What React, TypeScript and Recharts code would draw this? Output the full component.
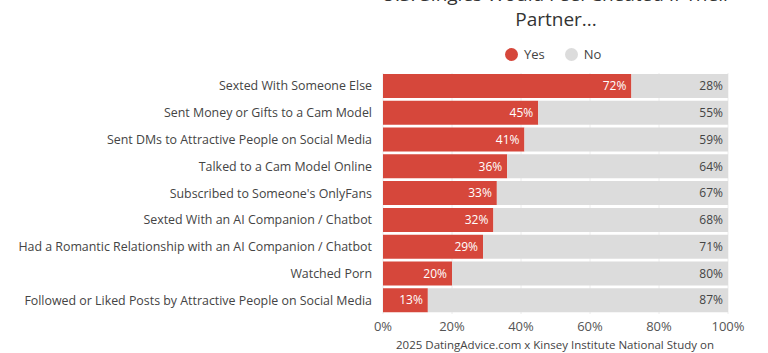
import React from 'react'
import {
  BarChart,
  Bar,
  XAxis,
  YAxis,
  CartesianGrid,
  LabelList,
} from 'recharts'

const categories = [
  'Sexted With Someone Else',
  'Sent Money or Gifts to a Cam Model',
  'Sent DMs to Attractive People on Social Media',
  'Talked to a Cam Model Online',
  "Subscribed to Someone's OnlyFans",
  'Sexted With an AI Companion / Chatbot',
  'Had a Romantic Relationship with an AI Companion / Chatbot',
  'Watched Porn',
  'Followed or Liked Posts by Attractive People on Social Media',
]
const yesValues = [72, 45, 41, 36, 33, 32, 29, 20, 13]
const noValues = [28, 55, 59, 64, 67, 68, 71, 80, 87]
const xTicks = [0, 20, 40, 60, 80, 100]

const RED = '#d6473b'
const GRAY = '#dcdcdc'
const FONT = '"Open Sans", "Noto Sans", sans-serif'

const data = categories.map((name, i) => ({
  name,
  yes: yesValues[i],
  no: noValues[i],
}))

const pct = (v: any) => `${v}%`

// single-line category label, right aligned against the plot
const CategoryTick = ({ x, y, payload }: any) => (
  <text
    x={x}
    y={y}
    dy={4}
    textAnchor='end'
    fill='#444'
    fontSize={12.4}
    fontFamily={FONT}
  >
    {payload.value}
  </text>
)

export default function App() {
  return (
    <div
      style={{
        position: 'absolute',
        left: 0,
        top: 0,
        width: 768,
        height: 353,
        overflow: 'hidden',
        background: '#fff',
        fontFamily: FONT,
      }}
    >
      <div
        style={{
          position: 'absolute',
          left: 0,
          width: 1112,
          top: -18,
          textAlign: 'center',
          fontSize: 19,
          lineHeight: '25px',
          color: '#333',
        }}
      >
        U.S. Singles Would Feel Cheated If Their
        <br />
        Partner...
      </div>
      <div
        style={{
          position: 'absolute',
          top: 45,
          left: 505,
          display: 'flex',
          alignItems: 'center',
          fontSize: 13,
          color: '#444',
        }}
      >
        <span style={{ width: 13, height: 13, borderRadius: 7, background: RED, display: 'inline-block', marginRight: 6 }} />
        <span style={{ marginRight: 20 }}>Yes</span>
        <span style={{ width: 13, height: 13, borderRadius: 7, background: GRAY, display: 'inline-block', marginRight: 6 }} />
        <span>No</span>
      </div>
      <BarChart
        width={768}
        height={353}
        data={data}
        layout='vertical'
        margin={{ top: 73, right: 40, bottom: 0, left: 0 }}
        barSize={24}
        style={{ fontFamily: FONT }}
      >
        <CartesianGrid horizontal={false} stroke='#ececec' />
        <XAxis
          type='number'
          domain={[0, 100]}
          ticks={xTicks}
          tickFormatter={pct}
          axisLine={false}
          tickLine={false}
          tick={{ fill: '#555', fontSize: 13 }}
          tickMargin={2}
          height={39}
        />
        <YAxis
          type='category'
          dataKey='name'
          width={383}
          axisLine={false}
          tickLine={false}
          tickMargin={5}
          interval={0}
          tick={<CategoryTick />}
        />
        <Bar dataKey='yes' stackId='a' fill={RED} isAnimationActive={false}>
          <LabelList
            dataKey='yes'
            position='insideRight'
            formatter={pct}
            fill='#fff'
            fontSize={12}
          />
        </Bar>
        <Bar dataKey='no' stackId='a' fill={GRAY} isAnimationActive={false}>
          <LabelList
            dataKey='no'
            position='insideRight'
            formatter={pct}
            fill='#444'
            fontSize={12}
          />
        </Bar>
      </BarChart>
      <div
        style={{
          position: 'absolute',
          left: 0,
          width: 1110,
          top: 337,
          textAlign: 'center',
          fontSize: 11.5,
          color: '#444',
        }}
      >
        2025 DatingAdvice.com x Kinsey Institute National Study on
      </div>
    </div>
  )
}
